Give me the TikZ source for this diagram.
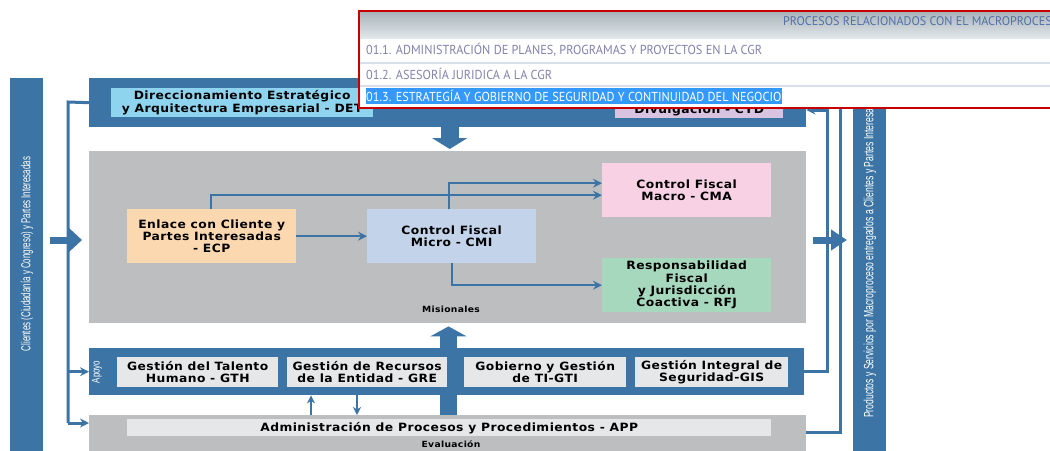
\documentclass[tikz,border=0pt]{standalone}
\usepackage{fontspec}
\usepackage{graphicx}
\usetikzlibrary{arrows.meta}
\setmainfont{DejaVu Sans}
\newfontfamily\boxfont{DejaVu Sans}[LetterSpace=4, FakeStretch=1.08]
\newfontfamily\barfont{Liberation Sans}
\newfontfamily\popfont{PT Sans}

\definecolor{steel}{HTML}{3C75A5}
\definecolor{misgrey}{HTML}{BCBEC0}
\definecolor{boxgrey}{HTML}{E6E7E8}
\definecolor{detblue}{HTML}{8FD4EF}
\definecolor{cydlilac}{HTML}{D8C4E0}
\definecolor{ecppeach}{HTML}{FCD8B0}
\definecolor{cmiblue}{HTML}{C3D4EA}
\definecolor{cmapink}{HTML}{F8D2E4}
\definecolor{rfjgreen}{HTML}{A6D8BD}
\definecolor{popred}{HTML}{C80000}
\definecolor{poprowtext}{HTML}{8282AE}
\definecolor{popheadtext}{HTML}{5070A8}
\definecolor{popsep}{HTML}{D6DFEA}
\definecolor{popheadtop}{HTML}{A9B4BA}
\definecolor{popheadbottom}{HTML}{E2E7EA}
\definecolor{selblue}{HTML}{3399FF}

\newcommand\popsquash[1]{\scalebox{0.943}[1]{#1}}
\newcommand\headsquash[1]{\scalebox{0.97}[1]{#1}}
\newcommand\leftsquash[1]{\scalebox{0.61}[1]{#1}}
\newcommand\rightsquash[1]{\scalebox{0.64}[1]{#1}}

\begin{document}
\begin{tikzpicture}[x=1pt,y=-1pt,
  band/.style={fill=steel, inner sep=0pt, anchor=north west},
  panel/.style={fill=misgrey, inner sep=0pt, anchor=north west},
  proc/.style={inner sep=0pt, anchor=north west, align=center, text=black,
    font=\boxfont\bfseries\fontsize{11.4}{12.4}\selectfont},
  tag/.style={inner sep=0pt, font=\boxfont\bfseries\fontsize{8.5}{9}\selectfont},
  bartext/.style={inner sep=0pt, text=white, font=\barfont\fontsize{13}{15}\selectfont},
  link/.style={draw=steel, line width=2.2pt},
  bus/.style={draw=steel, line width=3pt},
  tip/.style={-{Stealth[length=9pt,width=9pt,inset=3pt]}},
  fat/.style={draw=steel, fill=steel},
  poprow/.style={inner sep=0pt, anchor=west, text=poprowtext,
    font=\popfont\fontsize{13}{15}\selectfont},
  popsep/.style={draw=popsep, line width=1.5pt}]

\useasboundingbox (0,0) rectangle (1050,450);
\fill[white] (0,0) rectangle (1050,450);

% side bars: clients (input) and products (output)
\node[band, minimum width=33pt, minimum height=380pt] (clients) at (10,78) {};
\node[bartext, rotate=90] (clientslabel) at (27,254)
  {\leftsquash{Clientes (Ciudadanía y Congreso) y Partes Interesadas}};
\node[band, minimum width=33pt, minimum height=380pt] (outputs) at (853,78) {};
\node[bartext, rotate=90, anchor=west, font=\barfont\fontsize{13.5}{15}\selectfont] (outputslabel) at (870,418)
  {\rightsquash{Productos y Servicios por Macroproceso entregados a Clientes y Partes Interesadas}};

% strategic band
\node[band, minimum width=717pt, minimum height=49pt] (estr) at (89,78) {};
\node[proc, fill=detblue, minimum width=262pt, minimum height=29pt] (det) at (111,88)
  {Direccionamiento Estratégico\\y Arquitectura Empresarial - DET};
\node[proc, fill=cydlilac, minimum width=168pt, minimum height=30pt] (cyd) at (615,88)
  {\strut\\Divulgación - CYD};

% mission panel
\node[panel, minimum width=717pt, minimum height=172pt] (mis) at (89,151) {};
\node[proc, fill=ecppeach, minimum width=169pt, minimum height=54pt] (ecp) at (127,209)
  {Enlace con Cliente y\\Partes Interesadas\\- ECP};
\node[proc, fill=cmiblue, minimum width=169pt, minimum height=54pt] (cmi) at (367,209)
  {Control Fiscal\\Micro - CMI};
\node[proc, fill=cmapink, minimum width=169pt, minimum height=54pt] (cma) at (602,163)
  {Control Fiscal\\Macro - CMA};
\node[proc, fill=rfjgreen, minimum width=169pt, minimum height=54pt] (rfj) at (602,258)
  {Responsabilidad\\Fiscal\\y Jurisdicción\\Coactiva - RFJ};
\node[tag] (mislabel) at (451,309) {Misionales};

% flows inside the mission panel
\draw[link, tip] (ecp.east) -- (cmi.west);
\draw[link, tip] ([xshift=84pt]ecp.north west) |- ([yshift=-5pt]cma.west);
\draw[link, tip] ([xshift=-2.5pt]cmi.north) |- ([yshift=7pt]cma.west);
\draw[link, tip] (cmi.south) |- (rfj.west);

% evaluation panel
\node[panel, minimum width=717pt, minimum height=40pt] (app) at (89,415) {};
\node[proc, fill=boxgrey, minimum width=644pt, minimum height=17pt] (appbox) at (127,419)
  {Administración de Procesos y Procedimientos - APP};
\node[tag] (evallabel) at (451,444) {Evaluación};

% support band
\node[band, minimum width=715pt, minimum height=47pt] (apoyo) at (89,348) {};
\draw[fat, line width=17pt, -{Triangle[length=10pt,width=36pt]}, shorten >=3pt]
  (app.north -| 448.5,0) -- (mis.south -| 448.5,0);
\node[bartext, rotate=90, font=\barfont\fontsize{11}{12}\selectfont] (apoyolabel) at (97,372)
  {\scalebox{0.72}[1]{Apoyo}};
\node[proc, fill=boxgrey, minimum width=161pt, minimum height=30pt] (gth) at (117,357)
  {Gestión del Talento\\Humano - GTH};
\node[proc, fill=boxgrey, minimum width=160pt, minimum height=30pt] (gre) at (287,357)
  {Gestión de Recursos\\de la Entidad - GRE};
\node[proc, fill=boxgrey, minimum width=162pt, minimum height=30pt] (gti) at (464,357)
  {Gobierno y Gestión\\de TI-GTI};
\node[proc, fill=boxgrey, minimum width=153pt, minimum height=30pt] (gis) at (635,357)
  {Gestión Integral de\\Seguridad-GIS};

% exchanges between support and evaluation
\draw[link, -{Stealth[length=8pt,width=8pt,inset=2.5pt]}] (app.north -| 311,0) -- (apoyo.south -| 311,0);
\draw[link, -{Stealth[length=8pt,width=8pt,inset=2.5pt]}] (apoyo.south -| 357,0) -- (app.north -| 357,0);

% top arrow from strategy to missions
\draw[fat, line width=18pt, -{Triangle[length=11pt,width=35pt]}, shorten >=2pt]
  ([xshift=2pt]estr.south) -- ([xshift=2pt]mis.north);

% left distribution bus
\coordinate (lbus) at (68,102);
\coordinate (lbot) at (68,423);
\draw[bus] (estr.west) -- (lbus) -- (lbot);
\draw[bus, tip] (lbus |- apoyo.west) -- (apoyo.west);
\draw[bus, tip] (lbot) -- (lbot -| app.west);

% right feedback lines
\coordinate (rin) at (827,110);
\coordinate (rout) at (840,90);
\draw[bus, tip] (apoyo.east) -| (rin) -- (rin -| estr.east);
\draw[bus, tip] ([yshift=3pt]app.east) -| (rout) -- (rout -| estr.east);

% big arrows from clients and to products
\coordinate (midrow) at (0,240);
\draw[fat, line width=7pt, -{Triangle[length=14pt,width=25pt]}, shorten <=7pt, shorten >=7pt]
  (clients.east |- midrow) -- (mis.west |- midrow);
\draw[fat, line width=7pt, -{Triangle[length=16pt,width=20pt]}, shorten <=7pt, shorten >=6pt]
  (mis.east |- midrow) -- (outputs.west |- midrow);

% related-process list
\node[draw=popred, line width=1.5pt, fill=white, inner sep=0pt, anchor=north west,
  minimum width=700pt, minimum height=97pt] (popup) at (358,10) {};
\shade[top color=popheadtop, bottom color=popheadbottom] (360,12) rectangle (1050,38);
\draw[popsep] (360,63) -- (1050,63);
\draw[popsep] (360,86) -- (1050,86);
\node[poprow, text=popheadtext, font=\popfont\fontsize{12.5}{14}\selectfont] (pophead) at (783,21)
  {\headsquash{PROCESOS RELACIONADOS CON EL MACROPROCESO}};
\node[poprow] (row1) at (366,50)
  {\popsquash{01.1. ADMINISTRACIÓN DE PLANES, PROGRAMAS Y PROYECTOS EN LA CGR}};
\node[poprow] (row2) at (366,74)
  {\popsquash{01.2. ASESORÍA JURIDICA A LA CGR}};
\node[poprow, fill=selblue, text=white, minimum height=16pt] (row3) at (366,96)
  {\popsquash{01.3. ESTRATEGÍA Y GOBIERNO DE SEGURIDAD Y CONTINUIDAD DEL NEGOCIO}};
\end{tikzpicture}
\end{document}
